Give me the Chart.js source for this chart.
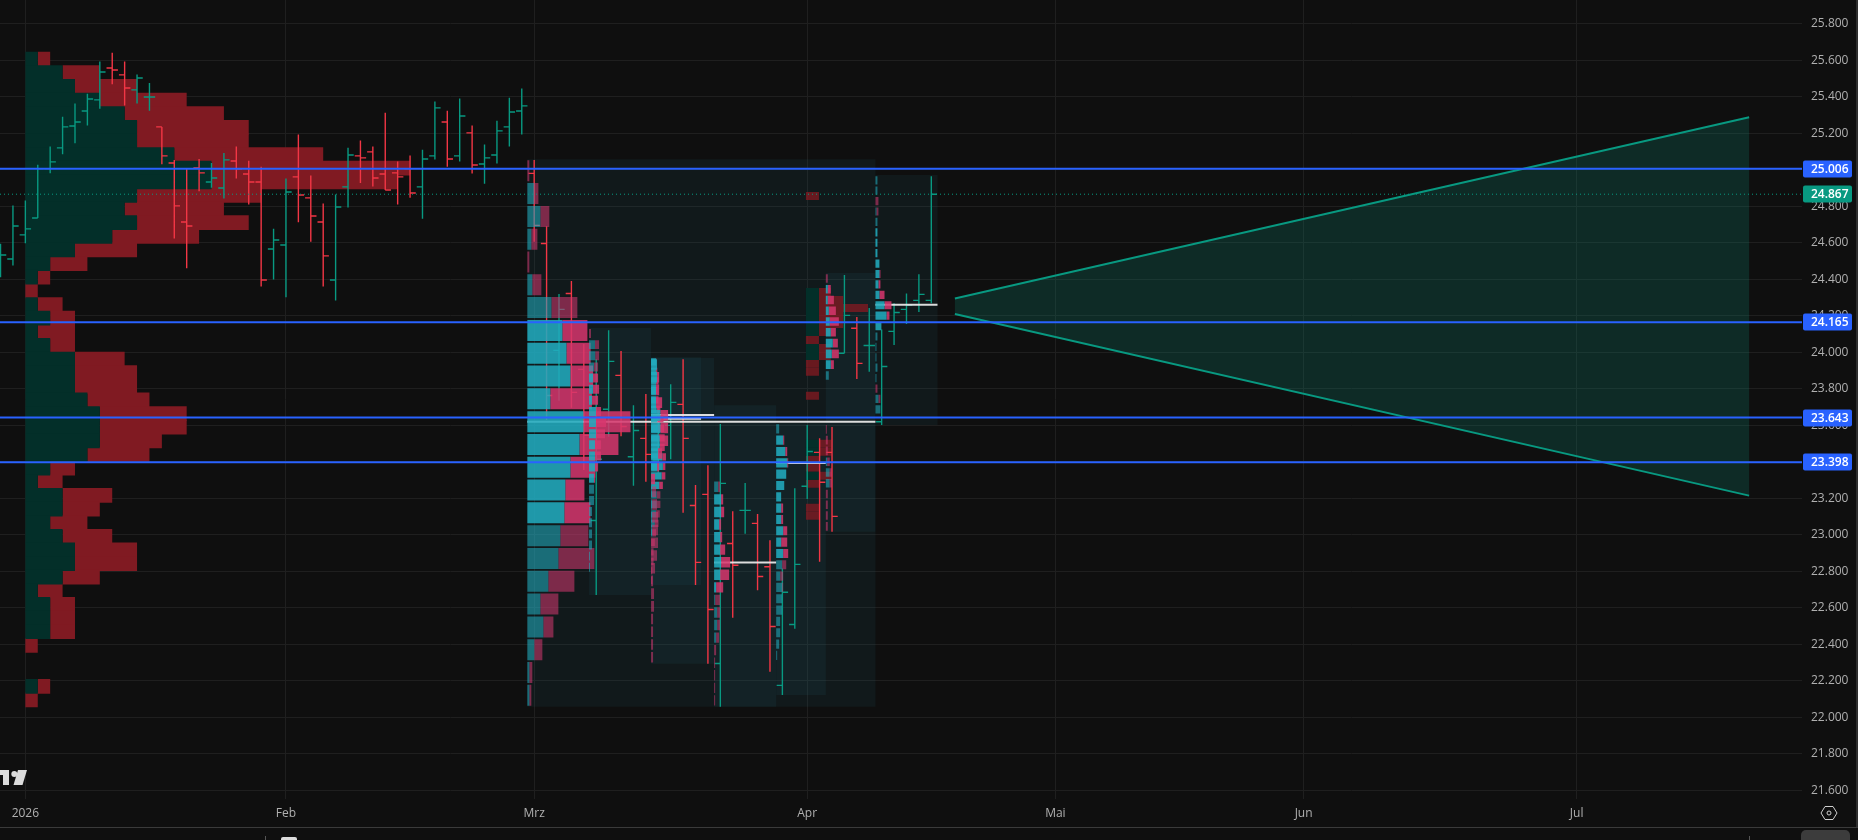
<!DOCTYPE html>
<html><head><meta charset="utf-8">
<style>
html,body{margin:0;padding:0;background:#0f0f0f;overflow:hidden;width:1858px;height:840px}
#wrap{position:relative;width:1858px;height:840px;background:#0f0f0f}
canvas{position:absolute;left:0;top:0}
.a{position:absolute}
</style>
<script src="https://cdn.jsdelivr.net/npm/chart.js@4/dist/chart.umd.min.js"></script>
</head><body>
<div id="wrap">
<canvas id="c" width="1858" height="827"></canvas>
<svg class="a" style="left:0;top:765px" width="30" height="24"><g fill="#dcdcdc"><path d="M0 5H9V20H3V10H0Z"/><circle cx="14.3" cy="9" r="3"/><path d="M18 5H27L22.5 20H13.5Z"/></g></svg>
<svg class="a" style="left:1819px;top:803px" width="20" height="20"><path d="M6 3.5H14L18 10L14 16.5H6L2 10Z" fill="none" stroke="#cfcfcf" stroke-width="1"/><circle cx="10" cy="10" r="2" fill="none" stroke="#cfcfcf" stroke-width="1"/></svg>
<div class="a" style="left:0;top:827px;width:1858px;height:1px;background:#3a3a3a"></div>
<div class="a" style="left:1856px;top:0;width:2px;height:827px;background:#2e2e2e"></div>
<div class="a" style="left:265px;top:836px;width:1px;height:4px;background:#555"></div>
<div class="a" style="left:281px;top:837px;width:16px;height:3px;background:#dcdcdc;border-radius:2px 2px 0 0"></div>
<div class="a" style="left:1749px;top:836px;width:1px;height:4px;background:#555"></div>
<div class="a" style="left:1801px;top:830px;width:49px;height:10px;background:#3c3c3c;border-radius:5px 5px 0 0"></div>
</div>
<script>
// ---- axis labels ----
const monthIndex = [0, 21, 41, 63, 83, 103, 125];
const monthLabels = ['2026', 'Feb', 'Mrz', 'Apr', 'Mai', 'Jun', 'Jul'];
const priceTicks = [25.8, 25.6, 25.4, 25.2, 25.0, 24.8, 24.6, 24.4, 24.2, 24.0, 23.8, 23.6, 23.4, 23.2, 23.0, 22.8, 22.6, 22.4, 22.2, 22.0, 21.8, 21.6];

// ---- daily OHLC, first bar is index -2 ----
const firstBar = -2;
const barOpen = [24.472,24.512,24.644,24.737,25.007,25.121,25.241,25.323,25.384,25.559,25.521,25.439,25.400,25.236,25.038,24.715,25.011,24.934,24.901,25.049,24.978,24.934,24.567,24.589,24.962,24.847,24.715,24.397,24.907,25.077,25.099,24.978,24.984,25.007,24.907,25.077,25.263,25.077,25.203,25.033,25.082,25.236,25.323,24.981,24.597,24.011,24.323,23.907,23.079,23.688,23.874,23.428,23.529,23.410,23.600,23.715,23.161,23.222,22.295,22.953,23.134,23.063,22.825,22.175,22.509,23.266,23.452,23.452,23.995,24.132,24.038,23.620,24.115,24.236,24.285,24.285];
const barHigh = [24.596,24.805,24.832,25.029,25.128,25.292,25.364,25.418,25.594,25.643,25.594,25.523,25.477,25.236,25.055,25.006,25.060,25.038,25.093,25.128,25.051,25.018,24.678,24.953,25.194,24.969,24.816,24.865,25.122,25.161,25.128,25.314,25.046,25.079,25.111,25.375,25.325,25.391,25.243,25.139,25.270,25.396,25.446,25.054,24.692,24.320,24.391,24.046,23.963,24.122,24.007,23.711,23.772,23.693,23.826,23.962,23.273,23.382,23.607,23.130,23.284,23.114,22.971,22.816,23.255,23.602,23.530,23.591,24.424,24.194,24.243,24.126,24.269,24.323,24.429,24.966];
const barLow = [24.412,24.476,24.598,24.737,24.982,25.086,25.146,25.243,25.336,25.470,25.353,25.364,25.325,25.031,24.624,24.461,24.883,24.903,24.843,24.953,24.810,24.361,24.399,24.302,24.713,24.607,24.361,24.284,24.794,24.929,24.909,24.890,24.810,24.848,24.733,25.057,25.018,25.046,24.980,24.925,25.035,25.128,25.194,24.607,23.629,23.735,23.697,23.355,22.670,23.538,23.541,23.269,23.291,23.340,23.415,23.121,22.725,22.294,22.058,22.546,23.006,22.697,22.250,22.122,22.485,23.196,22.853,23.017,23.995,23.854,23.894,23.602,24.040,24.155,24.221,24.270];
const barClose = [24.534,24.693,24.677,25.007,25.044,25.236,25.263,25.389,25.537,25.548,25.449,25.504,25.400,25.077,24.803,24.693,24.984,24.956,25.055,25.006,24.934,24.397,24.616,24.879,24.863,24.748,24.529,24.797,25.082,25.066,24.956,24.890,24.962,24.874,25.060,25.340,25.060,25.296,25.027,25.066,25.214,25.318,25.351,24.696,23.764,24.236,23.781,23.545,23.414,23.951,23.594,23.572,23.441,23.600,23.726,23.529,22.849,22.591,23.282,22.833,23.134,22.772,22.498,22.685,22.838,23.457,23.288,23.101,24.203,23.940,24.038,23.923,24.219,24.259,24.318,24.867];

// ---- horizontal levels ----
const levelValues = [25.006, 24.165, 23.643, 23.398];
const lastPrice = 24.867;

// ---- wedge drawing ----
const wedgeIndex = [74.9, 138.9];
const wedgeUpper = [24.295, 25.289];
const wedgeLower = [24.21, 23.215];

// ---- volume profile, widths in bars ----
const janTop = 25.645, janBottom = 22.058, janAnchor = 0;
const janGreen = [1,3,4,6,8,9,9,12,15,15,9,8,9,7,4,2,1,0,1,2,1,2,4,4,4,5,6,6,6,5,2,1,3,3,2,3,4,4,3,1,2,2,2,0,0,0,1,0];
const janRed = [2,6,9,13,16,18,18,24,31,30,19,16,18,14,9,5,2,1,3,4,4,4,8,9,9,10,13,13,11,10,4,3,7,6,5,7,9,9,6,3,4,4,4,1,0,0,2,1];

const aprTop = 24.879, aprBottom = 23.039, aprAnchor = 62.9;
const aprGreen = [0,0,0,0,0,0,0,0,0,0,0,0,1.05,1.05,1.05,1.05,1.05,1.05,0,1.05,1.05,0,0,0,0,0,0,0,0,0,0,1.05,1.05,0,0,1.05,0,0,0,0,0,0];
const aprRed = [1.05,0,0,0,0,0,0,0,0,0,0,0,2.0,3.0,5.0,3.0,3.0,2.0,1.05,2.0,2.0,1.05,1.05,0,0,1.05,0,0,0,0,0,2.05,2.05,1.05,1.05,2.05,1.05,0,0,1.05,1.05,0];

// anchored profiles: left edge, right edge, top, bottom of each box
const boxLeft = [40.45,45.42,50.42,50.42,55.5,60.5,64.5,68.5];
const boxRight = [68.5,50.42,54.45,55.5,60.5,64.5,68.5,73.5];
const boxTop = [25.058,24.134,23.974,23.969,23.711,23.612,24.435,24.972];
const boxBottom = [22.058,22.67,22.725,22.294,22.058,22.122,23.017,23.602];

const marUp = [0,.56,1.05,.32,0,.40,1.94,2.82,3.15,3.47,1.85,4.52,4.2,3.47,3.06,2.98,2.66,2.5,1.69,1.05,1.29,.56,.16,.16];
const marAll = [.16,.89,1.77,.81,.16,1.13,4.03,4.84,5.1,5.3,5.2,8.31,7.34,5.48,4.6,5.08,4.92,5.4,3.79,2.5,2.1,1.21,.40,.32];
const p2Up = [0,.48,.5,.4,.32,.32,.24,.56,.56,.56,.48,.48,.48,.4,.4,.4,.24,.24,.24,.24,.08,.08,0,0];
const p2All = [.16,.81,.81,.73,.73,.81,.73,.97,1.37,1.29,.97,.97,.73,.48,.4,.4,.24,.24,.24,.24,.08,.08,0,0];
const p3aUp = [.4,.4,.4,.4,.4,.45,.5,.55,.6,.7,.9,.95,.85,.65,.45,.45,.4,.3,.1,0,0,0,0,0];
const p3aAll = [.45,.5,.6,.5,.6,.75,1,1.05,1.1,1.1,1.2,1.15,1.15,.95,.75,.75,.7,.6,.4,.3,.2,.2,.1,.1];
const p3bUp = [.48,.48,.4,.4,.75,.75,.7,.56,.48,0,.08,.08,.08,.08,0,0,0,0,0,0,0,0,0,0];
const p3bAll = [.48,.65,.65,.89,1.37,1.37,1.37,.89,.65,.32,.4,.48,.56,.56,.56,.48,.32,.16,.24,.24,.16,.16,.16,.16];
const p4Up = [0,0,0,0,0,0,.32,.56,.56,.4,.48,.48,.56,.48,.16,.08,.24,.24,.16,0,0,0,0,0];
const p4All = [0,0,0,0,0,0,.48,.73,.81,.56,.65,.89,1.29,1.21,.73,.48,.48,.48,.4,.16,.08,.08,.08,.08];
const p5Up = [.24,.56,.73,.89,.81,.65,.4,.4,.4,.56,.4,.56,.48,.32,.48,.48,.48,.32,.32,.24,.08,0,0,0];
const p5All = [.24,.65,.89,.97,.81,.65,.4,.56,.56,.89,.89,.97,.81,.56,.56,.48,.48,.32,.32,.24,.08,0,0,0];
const p6Up = [0,.16,.16,.24,.32,.4,.56,.48,.4,.24,0,0,0,0,0,0,0,.1,.3,.3,0,0,0,0];
const p6All = [.16,.4,.65,.81,1.05,.81,.97,1.05,.65,.24,0,0,0,0,.08,.16,.16,.32,.5,.5,.16,.16,.16,.16];
const p7Up = [.16,.16,0,.08,.16,.16,.16,.16,.32,.32,.24,.32,.73,.89,.48,.16,.08,.08,.16,.08,0,.24,.4,0];
const p7All = [.16,.16,.24,.24,.16,.16,.16,.16,.32,.4,.4,.73,1.29,1.13,.48,.16,.08,.08,.16,.08,.16,.4,.4,0];

// point-of-control lines
const pocLeft = [40.45,50.42,50.42,55.5,60.5,68.5];
const pocRight = [68.5,54.45,55.5,60.5,64.5,73.5];
const pocValue = [23.620,23.637,23.657,22.849,23.394,24.261];

// ---- helpers that only turn the arrays above into datasets ----
const UP='#089981', DOWN='#f23645', BLUE='#2962ff';
const xMin=-2.043, xMax=143.16, yMin=21.5522, yMax=25.9315;
const gap=0.006;
function rowsShape(anchor, top, bottom, from, to, vaFn, inset){
  const n=from.length, step=(top-bottom)/n, pts=[];
  for(let r=0;r<n;r++){
    if(!vaFn(r)) continue;
    const a=from[r], b=to[r];
    if(!(b>a)) continue;
    const y0=top-r*step-inset, y1=top-(r+1)*step+inset;
    const x0=anchor+a, x1=anchor+b;
    pts.push({x:x0,y:y0},{x:x1,y:y0},{x:x1,y:y1},{x:x0,y:y1},{x:x0,y:y0},{x:x0,y:null});
  }
  return pts;
}
function shapeDs(data,color,order){
  return {data,fill:'shape',backgroundColor:color,borderColor:'transparent',borderWidth:0,pointRadius:0,tension:0,spanGaps:false,order};
}
function lineDs(data,color,width,order,dash){
  return {data,fill:false,borderColor:color,borderWidth:width,borderDash:dash||[],pointRadius:0,tension:0,spanGaps:false,order};
}
const zeros=n=>new Array(n).fill(0);
const all=()=>true;
const datasets=[];

// levels, last price
levelValues.forEach(v=>datasets.push(lineDs([{x:xMin,y:v},{x:xMax,y:v}],BLUE,2,1)));
datasets.push(lineDs([{x:xMin,y:lastPrice},{x:xMax,y:lastPrice}],UP,1,2,[1,3]));
// POC lines sit under the profile rows
pocValue.forEach((v,i)=>datasets.push(lineDs([{x:pocLeft[i],y:v},{x:pocRight[i],y:v}],'rgba(232,232,232,.95)',2,15)));

// anchored profiles: [box, up widths, total widths, first value row, last value row]
const profiles=[
 [0,marUp,marAll,7,15],[1,p2Up,p2All,4,13],[2,p3aUp,p3aAll,0,13],[3,p3bUp,p3bAll,0,9],
 [4,p4Up,p4All,7,14],[5,p5Up,p5All,1,11],[6,p6Up,p6All,1,8],[7,p7Up,p7All,5,14]];
profiles.forEach(([b,up,tot,vaA,vaB],k)=>{
  const ord=12-k, anc=boxLeft[b], inVa=r=>r>=vaA&&r<=vaB, outVa=r=>!inVa(r);
  const ins=b===0?0.005:gap;
  datasets.push(shapeDs(rowsShape(anc,boxTop[b],boxBottom[b],zeros(up.length),up,inVa,ins),'rgba(34,171,190,.88)',ord));
  datasets.push(shapeDs(rowsShape(anc,boxTop[b],boxBottom[b],up,tot,inVa,ins),'rgba(214,55,110,.86)',ord));
  datasets.push(shapeDs(rowsShape(anc,boxTop[b],boxBottom[b],zeros(up.length),up,outVa,ins),'rgba(34,171,190,.58)',ord));
  datasets.push(shapeDs(rowsShape(anc,boxTop[b],boxBottom[b],up,tot,outVa,ins),'rgba(205,55,110,.58)',ord));
});

// OHLC bars
const upPts=[], dnPts=[];
barClose.forEach((c,k)=>{
  const i=firstBar+k, o=barOpen[k], t=c>=o?upPts:dnPts;
  t.push({x:i,y:barHigh[k]},{x:i,y:barLow[k]},{x:i,y:null},
         {x:i-.46,y:o},{x:i,y:o},{x:i,y:null},
         {x:i,y:c},{x:i+.46,y:c},{x:i,y:null});
});
datasets.push(lineDs(upPts,UP,1.4,20));
datasets.push(lineDs(dnPts,DOWN,1.4,20));

// wedge
datasets.push(lineDs([{x:wedgeIndex[0],y:wedgeUpper[0]},{x:wedgeIndex[1],y:wedgeUpper[1]},{x:wedgeIndex[1],y:null},
  {x:wedgeIndex[0],y:wedgeLower[0]},{x:wedgeIndex[1],y:wedgeLower[1]}],UP,2,21));
datasets.push(shapeDs([{x:wedgeIndex[0],y:wedgeUpper[0]},{x:wedgeIndex[1],y:wedgeUpper[1]},{x:wedgeIndex[1],y:wedgeLower[1]},{x:wedgeIndex[0],y:wedgeLower[0]}],'rgba(8,153,129,.2)',22));

// fixed-range profiles below the bars: the opaque January rows overlap slightly so no seams show
[[janAnchor,janTop,janBottom,janGreen,janRed],[aprAnchor,aprTop,aprBottom,aprGreen,aprRed]].forEach(([a,t,b,g,r],k)=>{
  const ins=k?0:-0.003;
  datasets.push(shapeDs(rowsShape(a,t,b,g,r,all,ins),k?'rgba(128,26,34,.8)':'rgb(128,26,34)',31));
  datasets.push(shapeDs(rowsShape(a,t,b,zeros(g.length),g,all,ins),'rgb(3,47,41)',30));
});

// profile boxes
boxLeft.forEach((l,i)=>{
  datasets.push(shapeDs([{x:l,y:boxTop[i]},{x:boxRight[i],y:boxTop[i]},{x:boxRight[i],y:boxBottom[i]},{x:l,y:boxBottom[i]}],'rgba(40,120,135,.10)',40));
});

const tagPlugin={id:'tags',afterDraw(ch){
  const c=ch.ctx, y=ch.scales.y;
  const tag=(v,col)=>{
    const py=Math.round(y.getPixelForValue(v));
    c.save();
    c.fillStyle=col;
    c.beginPath();c.roundRect(1803,py-8.5,49,17,2);c.fill();
    c.fillStyle='#fff';c.font='600 12px "Open Sans"';c.textAlign='left';c.textBaseline='middle';
    c.fillText(v.toFixed(3),1811,py+.5);
    c.restore();
  };
  tag(lastPrice,UP);
  levelValues.forEach(v=>tag(v,BLUE));
}};
const noPad=s=>{s.paddingTop=0;s.paddingBottom=0;s.paddingLeft=0;s.paddingRight=0;};

new Chart(document.getElementById('c'),{
  type:'line',
  data:{datasets},
  plugins:[tagPlugin],
  options:{
    responsive:false,animation:false,events:[],devicePixelRatio:1,
    parsing:{xAxisKey:'x',yAxisKey:'y'},
    layout:{padding:0},
    plugins:{legend:{display:false},tooltip:{enabled:false},title:{display:false}},
    scales:{
      x:{type:'linear',min:xMin,max:xMax,
        afterBuildTicks(s){s.ticks=monthIndex.map(v=>({value:v}));},
        afterFit(s){s.height=28;noPad(s);},
        grid:{color:'#1f1f1f',lineWidth:1,drawTicks:false},border:{display:false},
        ticks:{autoSkip:false,maxRotation:0,padding:7,color:'#b0b0b0',font:{family:'"Open Sans"',size:12},
          callback(v){const i=monthIndex.indexOf(v);return i<0?'':monthLabels[i];}}},
      y:{type:'linear',position:'right',min:yMin,max:yMax,
        afterBuildTicks(s){s.ticks=priceTicks.map(v=>({value:v}));},
        afterFit(s){s.width=56;noPad(s);},
        grid:{color:'#1f1f1f',lineWidth:1,drawTicks:false},border:{display:false},
        ticks:{autoSkip:false,padding:9,color:'#b0b0b0',font:{family:'"Open Sans"',size:12},
          callback(v){return v.toFixed(3);}}}
    }
  }
});
</script>
</body></html>
